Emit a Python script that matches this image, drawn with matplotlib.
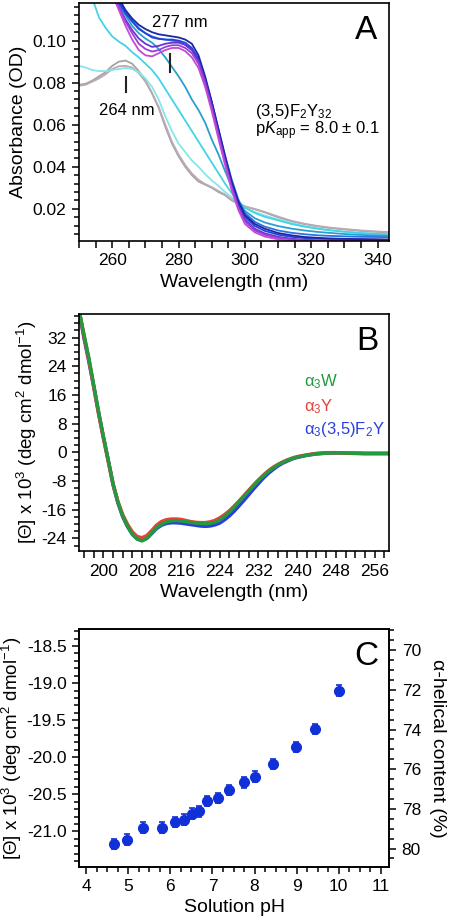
import numpy as np
import matplotlib
matplotlib.use("Agg")
import matplotlib.pyplot as plt
from matplotlib.ticker import MultipleLocator

plt.rcParams['font.family'] = ['Liberation Sans', 'DejaVu Sans']
plt.rcParams['mathtext.fontset'] = 'custom'
plt.rcParams['mathtext.rm'] = 'Liberation Sans'
plt.rcParams['mathtext.it'] = 'Liberation Sans:italic'
plt.rcParams['axes.unicode_minus'] = False

nan = np.nan

# ---- panel A: UV-vis titration spectra ----
wl_a = [250, 252, 254, 256, 258, 260, 262, 264, 266, 268, 270, 272, 274, 276, 278,
        280, 282, 284, 286, 288, 290, 292, 294, 296, 298, 300, 303, 306, 310, 314,
        318, 322, 326, 330, 335, 340, 344]

abs_gray1 = [.079, .0795, .081, .083, .085, .088, .090, .0905, .089, .0855, .081, .075, .068, .059, .051,
             .045, .040, .036, .033, .0315, .030, .028, .0265, .024, .0225, .021, .0198, .0183, .016, .014,
             .0127, .0116, .0108, .0102, .0095, .009, .0087]
abs_gray2 = [.0785, .079, .0805, .082, .084, .0865, .0878, .088, .0872, .0845, .0805, .0748, .0685, .060, .0518,
             .0458, .0408, .0368, .0338, .0318, .0303, .0285, .0268, .0245, .0227, .0212, .0199, .0185, .0163, .0143,
             .0129, .0118, .0110, .0104, .0097, .0092, .0089]
abs_cyan1 = [.088, .0872, .086, .0855, .0855, .086, .0865, .087, .0865, .085, .082, .078, .072, .064, .057,
             .051, .047, .043, .040, .0365, .0335, .031, .028, .0255, .023, .0205, .0185, .0168, .015, .0133,
             .0118, .0107, .0098, .0091, .0085, .008, .0078]
abs_cyan2 = [nan, .135, .120, .111, .106, .102, .0995, .0975, .0945, .092, .089, .086, .082, .077, .072,
             .067, .062, .057, .052, .047, .042, .037, .032, .0275, .0235, .0205, .018, .0162, .0145, .0128,
             .0115, .0105, .0097, .0091, .0085, .0081, .0079]
abs_teal = [nan, nan, nan, nan, nan, .124, .117, .112, .107, .1035, .101, .099, .096, .092, .0875,
            .083, .078, .072, .067, .061, .053, .046, .038, .0305, .0235, .019, .0155, .0135, .0118, .0106,
            .0097, .009, .0085, .008, .0076, .0073, .0071]
abs_blue0 = [nan, nan, nan, nan, nan, .125, .119, .1135, .1095, .106, .1035, .102, .101, .1005, .100,
             .0995, .098, .0955, .0905, .0815, .0705, .058, .0455, .034, .0245, .018, .0138, .0115, .0097, .0086,
             .0079, .0074, .0071, .0069, .0067, .0066, .0065]
abs_blue1 = [nan, nan, nan, nan, nan, .124, .118, .113, .109, .1055, .1035, .1015, .1008, .1005, .1005,
             .100, .099, .0965, .0915, .082, .0705, .0575, .0445, .0325, .0228, .0162, .0118, .0095, .0077, .0067,
             .0061, .0058, .0056, .0055, .0054, .0053, .0052]
abs_navy = [nan, nan, nan, nan, nan, .126, .120, .1145, .1105, .1075, .1055, .104, .103, .1025, .102,
            .1015, .1005, .0985, .093, .083, .071, .058, .045, .033, .0235, .017, .0128, .0105, .0085, .0074,
            .0066, .0062, .0059, .0057, .0056, .0055, .0054]
abs_violet = [nan, nan, nan, nan, nan, .122, .116, .110, .105, .101, .0985, .097, .0975, .0985, .099,
              .099, .098, .0955, .0905, .081, .069, .056, .043, .031, .0215, .015, .0105, .0083, .0067, .0058,
              .0053, .005, .0049, .0048, .0047, .0047, .0046]
abs_purple = [nan, nan, nan, nan, nan, .123, .116, .109, .1035, .0985, .096, .0948, .0955, .097, .0978,
              .0978, .0965, .094, .089, .0795, .068, .055, .042, .030, .0205, .014, .0097, .0076, .0062, .0054,
              .005, .0048, .0047, .0046, .0046, .0045, .0045]
abs_magenta = [nan, nan, nan, nan, nan, .122, .1145, .107, .1005, .0955, .093, .0925, .094, .0955, .0965,
               .0965, .095, .092, .087, .078, .0665, .0535, .041, .029, .0195, .0128, .0088, .0068, .0055, .0048,
               .0045, .0043, .0042, .0041, .0041, .004, .004]

spectra_a = [
    (abs_gray1, '#a3a3a3'),
    (abs_gray2, '#bba9b4'),
    (abs_cyan1, '#86e6ea'),
    (abs_cyan2, '#42d3e6'),
    (abs_teal, '#2a9fcf'),
    (abs_blue0, '#2b72e0'),
    (abs_blue1, '#2244d6'),
    (abs_navy, '#1a26a6'),
    (abs_violet, '#6434d6'),
    (abs_purple, '#9a3fd6'),
    (abs_magenta, '#c449d6'),
]

# ---- panel B: CD spectra ----
wl_b = [195, 196, 197, 198, 199, 200, 201, 202, 203, 204, 205, 206, 207, 208, 209, 210,
        211, 212, 213, 214, 215, 216, 217, 218, 219, 220, 221, 222, 223, 224, 225, 226,
        227, 228, 229, 230, 231, 232, 233, 234, 235, 236, 237, 238, 239, 240, 242, 244,
        246, 248, 250, 254, 259]
cd_w = [39.5, 33, 26.5, 19, 11.5, 4.6, -2.0, -8.7, -13.8, -17.7, -20.6, -22.9, -24.2, -24.7, -24.0, -22.5,
        -21.0, -20.0, -19.4, -19.1, -19.0, -19.1, -19.3, -19.5, -19.7, -19.8, -19.9, -19.8, -19.5, -18.9, -17.9, -16.7,
        -15.3, -13.8, -12.3, -10.8, -9.3, -7.9, -6.6, -5.4, -4.4, -3.5, -2.8, -2.2, -1.7, -1.3, -0.8, -0.4,
        -0.2, -0.1, -0.2, -0.3, -0.3]
cd_y = [39.5, 32.5, 26, 18.5, 11, 4.2, -2.3, -8.8, -13.7, -17.4, -20.1, -22.2, -23.5, -23.8, -23.2, -21.8,
        -20.3, -19.3, -18.8, -18.6, -18.6, -18.7, -19.0, -19.3, -19.5, -19.6, -19.6, -19.4, -19.0, -18.3, -17.4, -16.3,
        -15.0, -13.6, -12.1, -10.6, -9.1, -7.7, -6.4, -5.2, -4.2, -3.4, -2.7, -2.1, -1.6, -1.2, -0.7, -0.3,
        -0.1, -0.1, -0.2, -0.3, -0.3]
cd_f2y = [39.5, 32, 25.5, 18.5, 11.2, 4.3, -2.2, -8.9, -14.0, -17.9, -20.7, -22.8, -24.1, -24.5, -23.9, -22.6,
          -21.2, -20.3, -19.8, -19.6, -19.6, -19.7, -19.9, -20.1, -20.3, -20.5, -20.6, -20.5, -20.2, -19.7, -18.8, -17.7,
          -16.4, -14.9, -13.4, -11.8, -10.2, -8.7, -7.2, -5.9, -4.8, -3.8, -3.0, -2.4, -1.8, -1.4, -0.8, -0.4,
          -0.2, -0.1, -0.2, -0.3, -0.3]

# ---- panel C: pH dependence ----
ph = [4.67, 4.98, 5.35, 5.8, 6.1, 6.32, 6.51, 6.67, 6.87, 7.12, 7.39, 7.74, 8.0, 8.45, 8.98, 9.44, 10.0]
theta_222 = [-21.17, -21.11, -20.95, -20.95, -20.87, -20.84, -20.76, -20.73, -20.59, -20.55,
             -20.44, -20.34, -20.26, -20.09, -19.86, -19.62, -19.10]
theta_err = [0.07] * len(ph)


def style_axes(ax):
    for s in ax.spines.values():
        s.set_linewidth(1.2)
    ax.tick_params(which='both', direction='out', width=1.1, labelsize=12.5, pad=4)
    ax.tick_params(which='major', length=5)
    ax.tick_params(which='minor', length=3.5)


fig = plt.figure(figsize=(4.52, 9.19), dpi=100)
left, width = 0.175, 0.686
ax_a = fig.add_axes([left, 0.738, width, 0.259])
ax_b = fig.add_axes([left, 0.4004, width, 0.2576])
ax_c = fig.add_axes([left, 0.0566, width, 0.259])

# A
for vals, col in spectra_a:
    ax_a.plot(wl_a, vals, color=col, lw=1.3)
ax_a.set_xlim(250, 343.5)
ax_a.set_ylim(0.0048, 0.118)
ax_a.xaxis.set_major_locator(MultipleLocator(20))
ax_a.xaxis.set_minor_locator(MultipleLocator(5))
ax_a.yaxis.set_major_locator(MultipleLocator(0.02))
ax_a.yaxis.set_minor_locator(MultipleLocator(0.004))
ax_a.yaxis.set_major_formatter(plt.FormatStrFormatter('%.2f'))
style_axes(ax_a)
ax_a.tick_params(which='minor', axis='x', length=5)
ax_a.set_xlabel('Wavelength (nm)', fontsize=14, labelpad=4)
ax_a.set_ylabel('Absorbance (OD)', fontsize=14, labelpad=4)
ax_a.plot([277.3, 277.3], [0.0853, 0.0934], color='#222222', lw=1.5)
ax_a.plot([264.1, 264.1], [0.0754, 0.0825], color='#222222', lw=1.5)
ax_a.text(280.5, 0.1085, '277 nm', fontsize=12, ha='center', va='center')
ax_a.text(264.5, 0.0668, '264 nm', fontsize=12, ha='center', va='center')
ax_a.text(303.0, 0.0665, '(3,5)F$_2$Y$_{32}$', fontsize=12, va='center')
ax_a.text(303.0, 0.0572, 'p$K_{\\mathrm{app}}$ = 8.0 ± 0.1', fontsize=12, va='center')
ax_a.text(0.926, 0.885, 'A', transform=ax_a.transAxes, fontsize=24, ha='center', va='center')

# B
ax_b.plot(wl_b, cd_f2y, color='#2a3fe0', lw=2.6)
ax_b.plot(wl_b, cd_y, color='#e8403c', lw=2.6)
ax_b.plot(wl_b, cd_w, color='#239a3c', lw=2.4)
ax_b.set_xlim(195, 259)
ax_b.set_ylim(-27.5, 38.5)
ax_b.xaxis.set_minor_locator(MultipleLocator(2))
ax_b.set_xticks([200, 208, 216, 224, 232, 240, 248, 256])
ax_b.yaxis.set_major_locator(MultipleLocator(8))
ax_b.yaxis.set_minor_locator(MultipleLocator(2))
style_axes(ax_b)
ax_b.tick_params(which='minor', axis='x', length=5)
ax_b.set_xlabel('Wavelength (nm)', fontsize=14, labelpad=4)
ax_b.set_ylabel('[Θ] x 10$^3$ (deg cm$^2$ dmol$^{-1}$)', fontsize=13.5, labelpad=2)
ax_b.text(0.725, 0.715, 'α$_3$W', transform=ax_b.transAxes, fontsize=12, color='#239a3c', va='center')
ax_b.text(0.725, 0.610, 'α$_3$Y', transform=ax_b.transAxes, fontsize=12, color='#e8403c', va='center')
ax_b.text(0.725, 0.515, 'α$_3$(3,5)F$_2$Y', transform=ax_b.transAxes, fontsize=12, color='#2a3fe0', va='center')
ax_b.text(0.93, 0.885, 'B', transform=ax_b.transAxes, fontsize=24, ha='center', va='center')

# C
ax_c.errorbar(ph, theta_222, yerr=theta_err, fmt='o', color='#1030d8', ms=7,
              elinewidth=1.2, capsize=2.2, capthick=1.2)
ax_c.set_xlim(3.83, 11.2)
ax_c.set_ylim(-21.48, -18.27)
ax_c.xaxis.set_major_locator(MultipleLocator(1))
ax_c.xaxis.set_minor_locator(MultipleLocator(0.25))
ax_c.yaxis.set_major_locator(MultipleLocator(0.5))
ax_c.yaxis.set_minor_locator(MultipleLocator(0.1))
ax_c.yaxis.set_major_formatter(plt.FormatStrFormatter('%.1f'))
style_axes(ax_c)
ax_c.set_xlabel('Solution pH', fontsize=14, labelpad=3)
ax_c.set_ylabel('[Θ] x 10$^3$ (deg cm$^2$ dmol$^{-1}$)', fontsize=13.5, labelpad=2)
ax_c.text(0.925, 0.885, 'C', transform=ax_c.transAxes, fontsize=24, ha='center', va='center')

ax_r = ax_c.twinx()
ax_r.set_ylim(80.93, 68.93)
ax_r.yaxis.set_major_locator(MultipleLocator(2))
ax_r.yaxis.set_minor_locator(MultipleLocator(0.5))
style_axes(ax_r)
ax_r.set_ylabel('α-helical content (%)', fontsize=14, rotation=270, labelpad=18)

fig.savefig('out.png', dpi=100)
